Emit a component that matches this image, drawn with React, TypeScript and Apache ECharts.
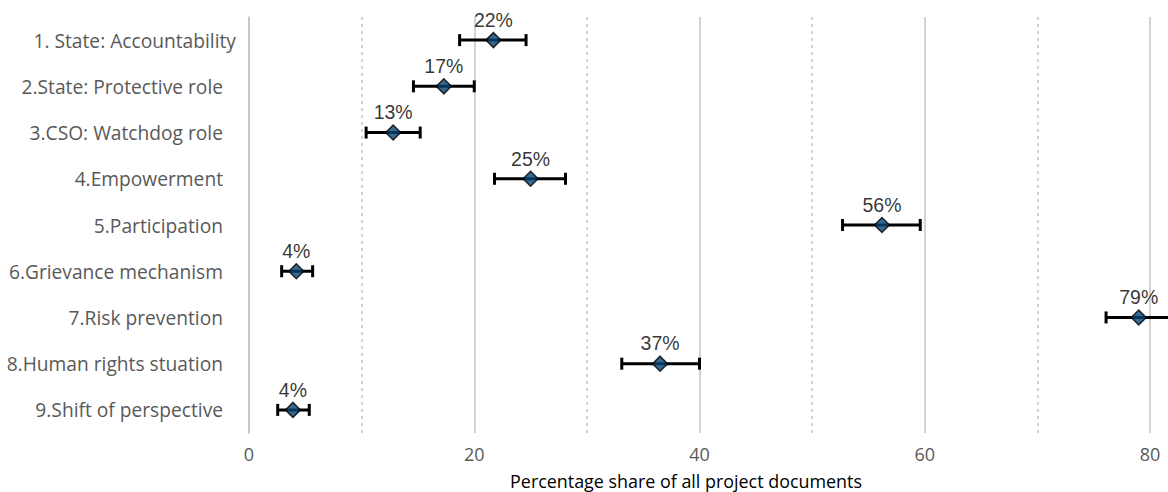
import React, { useEffect, useRef } from "react";
import * as echarts from "echarts";

const categories = [
  "1. State: Accountability",
  "2.State: Protective role",
  "3.CSO: Watchdog role",
  "4.Empowerment",
  "5.Participation",
  "6.Grievance mechanism",
  "7.Risk prevention",
  "8.Human rights stuation",
  "9.Shift of perspective",
];
const values = [21.7, 17.3, 12.8, 25.0, 56.2, 4.2, 79.0, 36.5, 3.9];
const lowerBounds = [18.7, 14.6, 10.4, 21.8, 52.7, 2.9, 76.1, 33.1, 2.55];
const upperBounds = [24.6, 20.0, 15.2, 28.1, 59.6, 5.65, 82.0, 40.0, 5.35];
const axisTitle = "Percentage share of all project documents";

const LABEL_FONT = "'Open Sans', sans-serif";

export default function App() {
  const ref = useRef<HTMLDivElement>(null);
  useEffect(() => {
    if (!ref.current) return;
    const chart = echarts.init(ref.current, undefined, { renderer: "svg" });
    const errData = categories.map((_, i) => [i, lowerBounds[i], upperBounds[i]]);
    const pointData = categories.map((_, i) => [values[i], i]);
    chart.setOption({
      animation: false,
      backgroundColor: "#ffffff",
      grid: { left: 249, top: 17, width: 1126.25, height: 416 },
      xAxis: {
        type: "value",
        min: 0,
        max: 100,
        interval: 20,
        axisLine: { show: false },
        axisTick: { show: false },
        axisLabel: {
          color: "#595959",
          fontSize: 18,
          fontFamily: LABEL_FONT,
          margin: 12,
          showMaxLabel: false,
        },
        splitLine: { show: true, lineStyle: { color: "#c4c4c4", width: 1.5 } },
        minorTick: { show: false, splitNumber: 2 },
        minorSplitLine: { show: true, lineStyle: { color: "#c4c4c4", width: 1.5, type: [3, 4] } },
      },
      yAxis: {
        type: "category",
        inverse: true,
        data: categories,
        axisLine: { show: true, lineStyle: { color: "#c4c4c4", width: 1.5 } },
        axisTick: { show: false },
        axisLabel: {
          margin: 13,
          formatter: (v: string, i: number) => (i === 0 ? `{a|${v}}` : `{b|${v}}`),
          rich: {
            a: { color: "#595959", fontSize: 19.2, fontFamily: LABEL_FONT },
            b: { color: "#595959", fontSize: 19.2, fontFamily: LABEL_FONT, padding: [0, 13, 0, 0] },
          },
        },
        splitLine: { show: false },
      },
      graphic: [
        {
          type: "text",
          x: 686,
          y: 481,
          style: {
            text: axisTitle,
            fill: "#000000",
            font: `17.9px ${LABEL_FONT}`,
            textAlign: "center",
            textVerticalAlign: "middle",
          },
        },
      ],
      series: [
        {
          type: "custom",
          data: errData,
          encode: { x: [1, 2], y: 0 },
          z: 2,
          renderItem: (params: any, api: any) => {
            const lo = api.coord([api.value(1), api.value(0)]);
            const hi = api.coord([api.value(2), api.value(0)]);
            const cap = 6;
            const st = { stroke: "#000000", lineWidth: 3, lineCap: "butt" };
            return {
              type: "group",
              children: [
                { type: "line", shape: { x1: lo[0], y1: lo[1], x2: hi[0], y2: hi[1] }, style: st },
                { type: "line", shape: { x1: lo[0], y1: lo[1] - cap, x2: lo[0], y2: lo[1] + cap }, style: st },
                { type: "line", shape: { x1: hi[0], y1: hi[1] - cap, x2: hi[0], y2: hi[1] + cap }, style: st },
              ],
            };
          },
        },
        {
          type: "scatter",
          data: pointData,
          symbol: "diamond",
          symbolSize: 15,
          z: 3,
          itemStyle: { color: "#084272", borderColor: "#000000", borderWidth: 1.5 },
          label: {
            show: true,
            position: "top",
            distance: 2,
            color: "#000000",
            fontSize: 19.5,
            fontFamily: "'Liberation Sans', Arial, sans-serif",
            formatter: (p: any) => `${Math.round(p.value[0])}%`,
          },
        },
      ],
    });
    return () => chart.dispose();
  }, []);
  return (
    <div
      style={{
        position: "fixed",
        left: 0,
        top: 0,
        width: 1168,
        height: 492,
        overflow: "hidden",
        background: "#fff",
      }}
    >
      <div ref={ref} style={{ width: 1400, height: 492 }} />
    </div>
  );
}
